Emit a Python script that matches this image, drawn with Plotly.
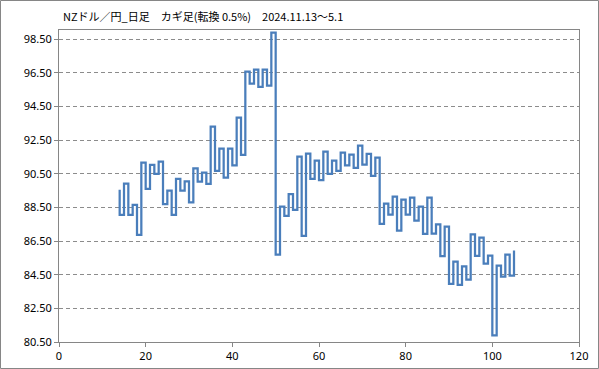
import plotly.graph_objects as go

title_text = "NZドル／円_日足　カギ足(転換 0.5%)　2024.11.13～5.1"

start_x = 14
start_value = 89.55
# endpoint of each vertical kagi segment, at x = 14, 15, ..., 105
kagi_values = [
    88.06, 89.92, 88.06, 88.65, 86.87, 91.17, 89.60, 91.03, 90.50, 91.23,
    88.70, 89.50, 88.06, 90.20, 89.50, 90.05, 88.80, 90.83, 90.04, 90.57,
    89.90, 93.31, 90.67, 92.00, 90.28, 92.00, 91.00, 93.84, 91.62, 96.57,
    95.86, 96.70, 95.67, 96.70, 95.74, 98.90, 85.70, 88.55, 88.00, 89.29,
    88.36, 91.52, 86.81, 91.70, 90.20, 91.28, 90.13, 91.82, 90.50, 91.28,
    90.67, 91.76, 91.00, 91.64, 90.86, 92.18, 91.05, 91.68, 90.38, 91.46,
    87.52, 88.73, 88.08, 89.15, 87.12, 88.96, 88.08, 89.09, 87.72, 88.55,
    86.93, 89.09, 86.95, 87.49, 85.61, 87.36, 83.96, 85.28, 83.89, 84.99,
    84.21, 86.90, 85.62, 86.70, 85.16, 85.63, 80.89, 85.04, 84.39, 85.70,
    84.44, 85.94,
]
y_ticks = [80.5, 82.5, 84.5, 86.5, 88.5, 90.5, 92.5, 94.5, 96.5, 98.5]
x_ticks = [0, 20, 40, 60, 80, 100, 120]

# kagi path: vertical at each x, then horizontal step to next x
px, py = [start_x], [start_value]
for i, v in enumerate(kagi_values):
    x = start_x + i
    if i > 0:
        px.append(x)
        py.append(py[-1])
    px.append(x)
    py.append(v)

fig = go.Figure()
fig.add_trace(go.Scatter(x=px, y=py, mode="lines",
                         line=dict(color="#4A7EBB", width=2.25),
                         hoverinfo="skip", showlegend=False))

axis_color = "#868686"
fig.update_layout(
    width=599, height=369,
    margin=dict(l=59, r=20, t=30, b=27, autoexpand=False),
    paper_bgcolor="white", plot_bgcolor="white",
    font=dict(family="Noto Sans CJK JP, Noto Sans, sans-serif", size=11, color="#000000"),
    title=dict(text=title_text, x=63 / 599, xanchor="left", y=1 - 17 / 369, yanchor="middle",
               font=dict(size=11, color="#000000"), automargin=False),
    xaxis=dict(range=[0, 120], tickvals=x_ticks, ticktext=[str(t) for t in x_ticks],
               showgrid=False, zeroline=False, showline=True, linecolor=axis_color, linewidth=1,
               mirror=True, ticks="outside", ticklen=4, tickcolor=axis_color, automargin=False,
               tickfont=dict(family="Noto Sans, sans-serif", size=11, color="#000000")),
    yaxis=dict(range=[80.5, 99.05], tickvals=y_ticks, ticktext=[f"{t:.2f}" for t in y_ticks],
               showgrid=True, gridcolor="#8c8c8c", griddash="4px,3px", gridwidth=1,
               zeroline=False, showline=True, linecolor=axis_color, linewidth=1,
               mirror=True, ticks="outside", ticklen=4, tickcolor=axis_color, automargin=False,
               tickfont=dict(family="Noto Sans, sans-serif", size=11, color="#000000")),
)

pw, ph = 599 - 59 - 20, 369 - 30 - 27
fig.add_shape(type="rect", xref="paper", yref="paper",
              x0=-(59 - 0.5) / pw, x1=(pw + 20 - 0.5) / pw,
              y0=-(27 - 0.5) / ph, y1=(ph + 30 - 0.5) / ph,
              line=dict(color="#868686", width=1), fillcolor="rgba(0,0,0,0)", layer="below")

fig.write_html("out.html", config={"displayModeBar": False},
               post_script="document.body.style.margin='0';document.body.style.padding='0';"
                           "document.body.style.overflow='hidden';")
